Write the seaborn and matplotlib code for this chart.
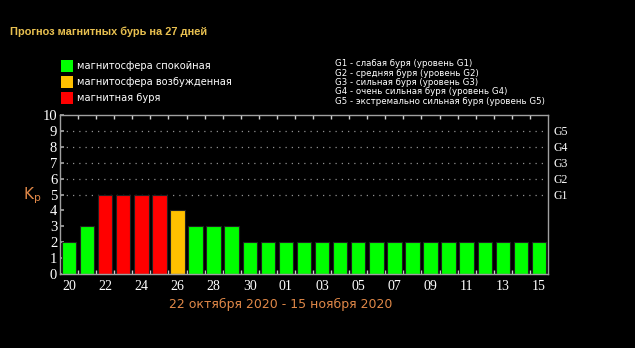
import matplotlib
matplotlib.use("Agg")
import matplotlib.pyplot as plt
import seaborn as sns
import pandas as pd
from matplotlib.patches import Rectangle

# ---- data ----
days = ["20", "21", "22", "23", "24", "25", "26", "27", "28", "29", "30", "31",
        "01", "02", "03", "04", "05", "06", "07", "08", "09", "10", "11", "12",
        "13", "14", "15"]
kp = [2, 3, 5, 5, 5, 5, 4, 3, 3, 3, 2, 2,
      2, 2, 2, 2, 2, 2, 2, 2, 2, 2, 2, 2, 2, 2, 2]
states = ["магнитосфера спокойная", "магнитосфера возбужденная", "магнитная буря"]
state_colors = ["#00ff00", "#ffc000", "#ff0000"]
g_levels = ["G1", "G2", "G3", "G4", "G5"]
g_texts = ["G1 - слабая буря (уровень G1)",
           "G2 - средняя буря (уровень G2)",
           "G3 - сильная буря (уровень G3)",
           "G4 - очень сильная буря (уровень G4)",
           "G5 - экстремально сильная буря (уровень G5)"]
title = "Прогноз магнитных бурь на 27 дней"
period = "22 октября 2020 - 15 ноября 2020"

def state_of(v):
    if v >= 5:
        return states[2]
    if v == 4:
        return states[1]
    return states[0]

df = pd.DataFrame({"pos": list(range(len(days))), "kp": kp,
                   "state": [state_of(v) for v in kp]})

sns.set_theme(style="dark")
plt.rcParams["font.family"] = ["DejaVu Sans"]

fig = plt.figure(figsize=(6.35, 3.48), dpi=100, facecolor="black")
ax = fig.add_axes([0.0945, 0.2126, 0.7685, 0.4569])
ax.set_facecolor("black")

sns.barplot(data=df, x="pos", y="kp", hue="state", hue_order=states,
            palette=dict(zip(states, state_colors)), dodge=False, legend=False,
            width=0.8, edgecolor="#202020", linewidth=0.8, saturation=1, ax=ax)

ax.set_xlim(-0.5, len(days) - 0.5)
ax.set_ylim(0, 10)
ax.set_xlabel("")
ax.set_ylabel("")

for s in ax.spines.values():
    s.set_color("#a0a0a0")
    s.set_linewidth(1.0)
    s.set_visible(True)

# dotted grid at 5..9
ax.grid(False)
for y in range(5, 10):
    ax.axhline(y, color="#909090", linestyle=(0, (1, 4)), linewidth=0.9, zorder=0)

serif = ["Liberation Serif", "DejaVu Serif"]
ax.set_yticks(range(0, 11))
ax.set_yticklabels([str(i) for i in range(0, 11)], fontfamily=serif, fontsize=10.5,
                   color="white")
ax.tick_params(axis="y", which="major", direction="in", length=3, color="#a0a0a0",
               left=True, right=True, pad=2)

ax.set_xticks(range(0, len(days), 2))
ax.set_xticklabels(days[::2], fontfamily=serif, fontsize=10, color="white")
ax.tick_params(axis="x", which="major", length=0, pad=4)
ax.set_xticks([i - 0.5 for i in range(1, len(days))], minor=True)
ax.tick_params(axis="x", which="minor", direction="in", length=3, color="#d0d0d0",
               top=True, bottom=True)

# right G labels
ax2 = ax.twinx()
ax2.set_ylim(0, 10)
ax2.set_yticks(range(5, 10))
ax2.set_yticklabels(g_levels, fontfamily=serif, fontsize=8.5, color="white")
ax2.tick_params(axis="y", length=0, pad=4)
for s in ax2.spines.values():
    s.set_visible(False)
ax2.grid(False)

# Kp label
fig.text(0.037, 0.438, r"K$_\mathregular{p}$", color="#e08848", fontsize=11,
         fontfamily=["DejaVu Sans"], va="center")

# period
fig.text(0.4425, 0.125, period, color="#e08848", fontsize=9, ha="center", va="center")

# title
fig.text(0.016, 0.908, title, color="#e8c050", fontsize=7.9, fontweight="bold",
         fontfamily=["Liberation Sans", "DejaVu Sans"], va="center")

# legend of states
for i, (lab, col) in enumerate(zip(states, state_colors)):
    yc = 66 + 16 * i
    fig.patches.append(Rectangle((61 / 635, 1 - (yc + 6) / 348), 12 / 635, 12 / 348,
                                 transform=fig.transFigure, facecolor=col,
                                 edgecolor="none"))
    fig.text(77 / 635, 1 - yc / 348, lab, color="white", fontsize=7.15, va="center")

# G legend
for i, t in enumerate(g_texts):
    yc = 64 + 9.3 * i
    fig.text(335 / 635, 1 - yc / 348, t, color="white", fontsize=6.2, va="center")

fig.savefig("out.png", dpi=100, facecolor="black")
